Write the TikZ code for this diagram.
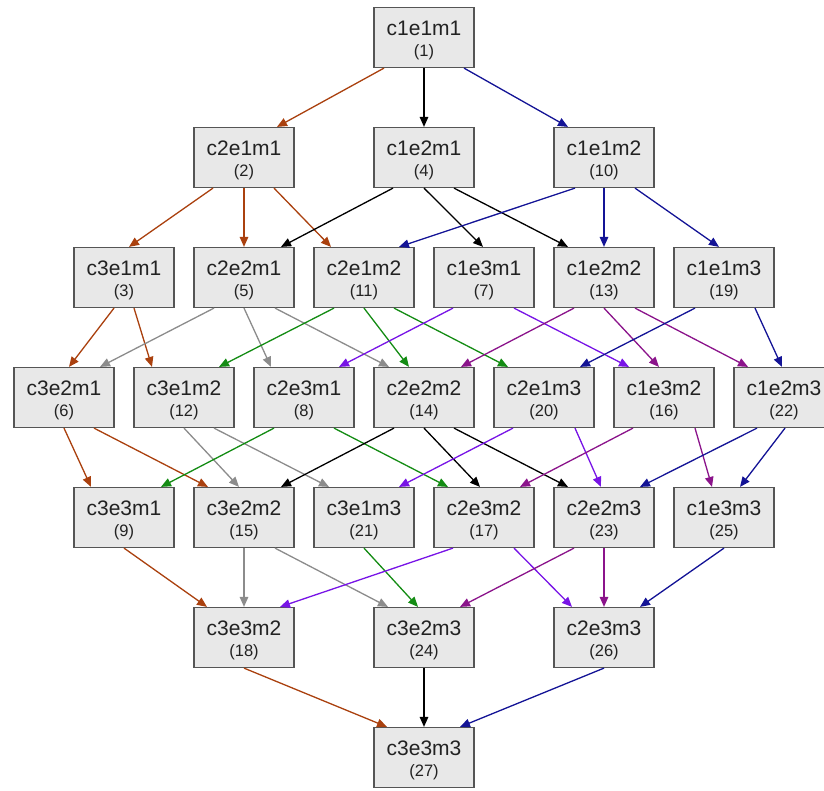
\documentclass[tikz,border=0pt]{standalone}
\usepackage{fontspec}
\setmainfont{Liberation Sans}
\usetikzlibrary{arrows.meta}
\definecolor{cbrown}{RGB}{170,65,15}
\definecolor{cnavy}{RGB}{20,20,150}
\definecolor{cgray}{RGB}{140,140,140}
\definecolor{cgreen}{RGB}{20,140,20}
\definecolor{cviolet}{RGB}{120,20,230}
\definecolor{cpurple}{RGB}{139,20,139}
\definecolor{cblack}{RGB}{0,0,0}
\definecolor{boxfill}{RGB}{232,232,232}
\definecolor{boxline}{RGB}{85,85,85}
\definecolor{txt}{RGB}{34,34,34}
\begin{document}
\begin{tikzpicture}[x=1pt,y=-1pt,
  box/.style={draw=boxline,fill=boxfill,line width=1.2pt,rectangle,minimum width=100pt,minimum height=60pt,inner sep=0pt},
  lab/.style={anchor=base,inner sep=0pt,text=txt,font=\fontsize{21}{24}\selectfont},
  num/.style={anchor=base,inner sep=0pt,text=txt,font=\fontsize{16.5}{20}\selectfont},
  edge/.style={line width=1.3pt,-{Triangle[length=10pt,width=8.5pt]}}]
\useasboundingbox (0,0) rectangle (824,790);
\foreach \id/\k/\r/\lab in {1/0/1/c1e1m1,
  2/-3/2/c2e1m1, 4/0/2/c1e2m1, 10/3/2/c1e1m2,
  3/-5/3/c3e1m1, 5/-3/3/c2e2m1, 11/-1/3/c2e1m2, 7/1/3/c1e3m1, 13/3/3/c1e2m2, 19/5/3/c1e1m3,
  6/-6/4/c3e2m1, 12/-4/4/c3e1m2, 8/-2/4/c2e3m1, 14/0/4/c2e2m2, 20/2/4/c2e1m3, 16/4/4/c1e3m2, 22/6/4/c1e2m3,
  9/-5/5/c3e3m1, 15/-3/5/c3e2m2, 21/-1/5/c3e1m3, 17/1/5/c2e3m2, 23/3/5/c2e2m3, 25/5/5/c1e3m3,
  18/-3/6/c3e3m2, 24/0/6/c3e2m3, 26/3/6/c2e3m3,
  27/0/7/c3e3m3}{
  \pgfmathsetmacro\cx{424+60*\k}
  \pgfmathsetmacro\ty{7.5+120*(\r-1)}
  \node[box] (n\id) at (\cx,\ty+30) {};
  \node[lab] (t\id) at (\cx,\ty+28) {\lab};
  \node[num] (u\id) at (\cx,\ty+49) {(\id)};
}
\foreach \a/\s/\b/\t/\c in {
  1/-40/2/33/cbrown, 1/0/4/0/cblack, 1/40/10/-36/cnavy,
  2/-31/3/5/cbrown, 2/0/5/0/cbrown, 2/30/11/-33/cbrown,
  4/-31/5/37/cblack, 4/0/7/-1/cblack, 4/30/13/-36/cblack,
  10/-29/11/35/cnavy, 10/0/13/0/cnavy, 10/31/19/-5/cnavy,
  3/-10/6/5/cbrown, 3/10/12/-32/cbrown,
  5/-30/6/36/cgray, 5/0/8/-33/cgray, 5/31/14/-35/cgray,
  11/-30/12/35/cgreen, 11/0/14/-15/cgreen, 11/30/20/-36/cgreen,
  7/-31/8/35/cviolet, 7/30/16/-35/cviolet,
  13/-30/14/37/cpurple, 13/0/16/-5/cpurple, 13/31/22/-36/cpurple,
  19/-29/20/36/cnavy, 19/31/22/-2/cnavy,
  6/0/9/-33/cbrown, 6/30/15/-36/cbrown,
  12/0/15/-5/cgray, 12/30/21/-35/cgray,
  8/-30/9/37/cgreen, 8/30/17/-36/cgreen,
  14/-30/15/37/cblack, 14/0/17/-4/cblack, 14/30/23/-36/cblack,
  20/-31/21/35/cviolet, 20/31/23/-3/cviolet,
  16/-31/17/36/cpurple, 16/31/25/-12/cpurple,
  22/-27/23/36/cnavy, 22/1/25/16/cnavy,
  9/0/18/-37/cbrown,
  15/0/18/0/cgray, 15/31/24/-36/cgray,
  21/0/24/-6/cgreen,
  17/-31/18/36/cviolet, 17/30/26/-32/cviolet,
  23/-30/24/36/cpurple, 23/0/26/0/cpurple,
  25/0/26/36/cnavy,
  18/0/27/-37/cbrown, 24/0/27/0/cblack, 26/0/27/36/cnavy}{
  \draw[edge,draw=\c,fill=\c] ([xshift=\s pt]n\a.south) -- ([xshift=\t pt]n\b.north);
}
\end{tikzpicture}
\end{document}
